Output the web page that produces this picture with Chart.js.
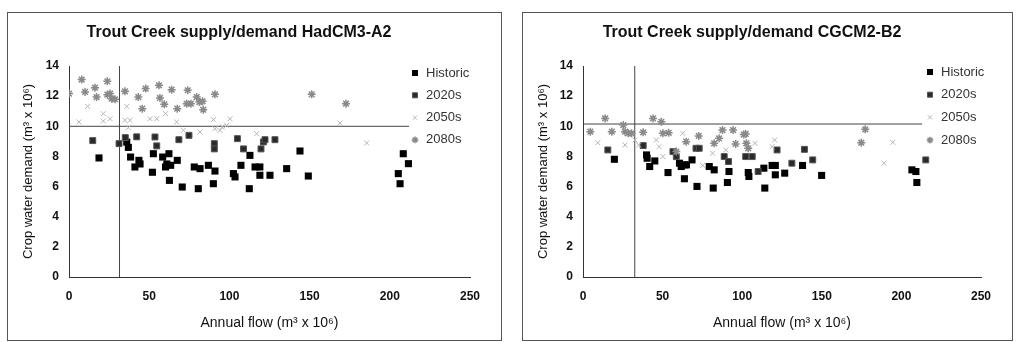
<!DOCTYPE html>
<html>
<head>
<meta charset="utf-8">
<script src="https://cdn.jsdelivr.net/npm/chart.js@4/dist/chart.umd.min.js"></script>
<style>
  html, body { margin: 0; padding: 0; background: #fff; }
  body { width: 1019px; height: 342px; position: relative; overflow: hidden; }
  .box { position: absolute; top: 12px; height: 327px; border: 1px solid #555; background: #fff; }
  #boxA { left: 7px; width: 493px; }
  #boxB { left: 522px; width: 489px; }
  canvas { display: block; }
</style>
</head>
<body>
<div class="box" id="boxA"><canvas id="hadcm3"></canvas></div>
<div class="box" id="boxB"><canvas id="cgcm2"></canvas></div>
<script>
// HadCM3-A2 scenario: annual flow (m3 x 10^6) vs crop water demand (m3 x 10^6)
const hadHistoric = [
  [18.7, 7.9], [36, 8.95], [37, 8.6], [38.4, 7.96], [41.1, 7.3], [43.6, 7.74], [44.3, 7.5],
  [52, 6.95], [52.6, 8.18], [58.4, 7.96], [60.2, 7.3], [61, 7.5], [62.3, 8.18], [62.6, 6.41],
  [63.4, 7.41], [67.5, 7.74], [70.6, 5.97], [78.1, 7.3], [80.6, 5.86], [81.7, 7.19], [86.9, 7.41],
  [90, 6.19], [91, 7.03], [102.5, 6.86], [103.5, 6.64], [107.2, 7.41], [112.4, 5.86], [112.8, 8.07],
  [116, 7.3], [119, 7.3], [119, 6.75], [125.3, 6.75], [135.7, 7.19], [144, 8.36], [149.2, 6.7],
  [205.3, 6.86], [206.4, 6.19], [208.4, 8.18], [211.6, 7.52]
];
const had2020s = [
  [14.8, 9.05], [31.2, 8.85], [35.1, 9.25], [42.2, 9.3], [53.6, 9.29], [54.7, 8.7], [68.5, 9.11],
  [74.8, 9.4], [90.6, 8.85], [90.6, 8.5], [105, 9.18], [108.8, 8.5], [119.7, 8.5], [121.2, 8.96],
  [122.2, 9.11], [128.4, 9.11]
];
const had2050s = [
  [6.2, 10.29], [11.6, 11.32], [21.4, 10.84], [21.4, 10.35], [25.6, 10.5], [36, 11.32], [34.9, 10.4],
  [38, 10.4], [37, 9.91], [50.5, 10.5], [54.7, 10.5], [60.2, 10.84], [67.1, 10.29], [71.3, 9.73],
  [81.7, 9.62], [90, 10.44], [91, 9.84], [94.1, 9.73], [95.5, 9.95], [98.3, 10.06], [100.4, 10.5],
  [117, 9.51], [169, 10.22], [185.6, 8.89]
];
const had2080s = [
  [0, 12.17], [7.9, 13.1], [10, 12.28], [16.2, 12.56], [17.2, 11.94], [23.9, 12.98], [23.9, 12.1],
  [25.6, 12.17], [26.6, 11.83], [28.7, 11.79], [34.9, 12.32], [43.2, 11.94], [45.7, 11.17],
  [47.8, 12.5], [56.1, 12.72], [56.7, 11.88], [59.4, 11.46], [64, 12.43], [67.5, 11.17], [74, 12.39],
  [73.4, 11.5], [76, 11.5], [79.6, 11.94], [81.3, 11.61], [83.3, 11.66], [83.7, 11.1], [91, 12.12],
  [151.3, 12.12], [172.7, 11.5]
];
const hadSupplyLimit = [[0, 10], [212, 10]];
const hadFlowLimit = [[31.5, 0], [31.5, 14]];

// CGCM2-B2 scenario
const cgcHistoric = [
  [19.7, 7.81], [39.9, 8.1], [40.3, 7.88], [41.9, 7.33], [45.1, 7.7], [53.4, 6.93], [60.6, 7.55],
  [61.7, 7.33], [63.7, 7.44], [63.7, 6.52], [65, 7.44], [68.5, 7.77], [71.6, 6.01], [79.3, 7.33],
  [81.8, 5.9], [82.4, 7.11], [90.7, 6.27], [91.7, 7.0], [103.8, 6.93], [104.2, 6.67], [113.6, 7.22],
  [114.2, 5.9], [118.8, 7.4], [120.8, 7.4], [120.8, 6.78], [126.7, 6.89], [137.9, 7.4], [149.9, 6.74],
  [206.6, 7.11], [209.1, 7.0], [209.7, 6.27]
];
const cgc2020s = [
  [15.6, 8.43], [37.8, 8.72], [56.5, 8.32], [58.6, 7.99], [71, 8.54], [73, 8.54], [88.7, 7.99],
  [91.4, 7.66], [102.2, 7.99], [106.3, 7.99], [110, 7.0], [121.9, 8.43], [131.2, 7.55],
  [139.1, 8.47], [144.3, 7.77], [215.3, 7.77]
];
const cgc2050s = [
  [9.3, 8.91], [26.4, 8.76], [32.6, 9.09], [35, 8.76], [46.1, 9.09], [47.8, 8.65], [50.2, 7.99],
  [62.7, 9.53], [75.2, 7.4], [81.4, 8.21], [89.7, 8.43], [108, 8.87], [118.8, 8.65], [120.4, 9.09],
  [189, 7.55], [194.6, 8.94]
];
const cgc2080s = [
  [4.6, 9.64], [13.9, 10.52], [18.1, 9.64], [25.3, 10.08], [26.4, 9.64], [28.4, 9.53], [30.5, 9.53],
  [37.8, 9.6], [44, 10.52], [49.2, 10.3], [50.2, 9.53], [53.8, 9.57], [58.6, 8.32], [64.8, 8.98],
  [72.7, 9.36], [82.4, 8.87], [85.5, 9.2], [87.6, 9.75], [94.3, 9.75], [95.9, 8.83], [101, 9.45],
  [102.2, 9.49], [102.6, 8.87], [103.8, 8.54], [174.8, 8.91], [177.3, 9.8]
];
const cgcSupplyLimit = [[0, 10.15], [213, 10.15]];
const cgcFlowLimit = [[32.5, 0], [32.5, 14]];

const seriesNames = ['Historic', '2020s', '2050s', '2080s'];
const yTicks = [0, 2, 4, 6, 8, 10, 12, 14];
const xTicks = [0, 50, 100, 150, 200, 250];

const FONT = "'Liberation Sans', Arial, sans-serif";
const toXY = (arr) => arr.map(([x, y]) => ({ x, y }));

const markerStyles = [
  { pointStyle: 'rect', radius: 5, backgroundColor: '#000', borderColor: '#000', borderWidth: 0 },
  { pointStyle: 'rect', radius: 4.2, backgroundColor: '#2a2a2a', borderColor: '#555', borderWidth: 1 },
  { pointStyle: 'crossRot', radius: 3.5, backgroundColor: '#bbb', borderColor: '#b5b5b5', borderWidth: 1 },
  { pointStyle: 'star', radius: 4, backgroundColor: '#888', borderColor: '#8a8a8a', borderWidth: 1.5 }
];

// legend drawn inside the plot, top-right, one row per series
const seriesKey = {
  id: 'seriesKey',
  afterDatasetsDraw(chart, args, opts) {
    const { ctx, chartArea } = chart;
    const x0 = chartArea.right - opts.fromRight;
    let y = chartArea.top + opts.fromTop;
    ctx.save();
    ctx.font = '13px ' + FONT;
    ctx.textBaseline = 'middle';
    chart.data.datasets.forEach((ds) => {
      if (ds.isLimit) return;
      ctx.fillStyle = ds.backgroundColor;
      ctx.strokeStyle = ds.borderColor;
      ctx.lineWidth = ds.borderWidth || 1;
      Chart.helpers.drawPoint(ctx, {
        pointStyle: ds.pointStyle, radius: ds.pointRadius * 0.85, rotation: 0,
        borderWidth: ds.borderWidth
      }, x0, y);
      ctx.fillStyle = '#333';
      ctx.fillText(ds.label, x0 + 11, y);
      y += opts.rowGap;
    });
    ctx.restore();
  }
};

function makeChart(id, width, title, series, supply, flow, key) {
  const canvas = document.getElementById(id);
  canvas.width = width;
  canvas.height = 327;
  canvas.style.width = width + 'px';
  canvas.style.height = '327px';

  const datasets = series.map((pts, i) => {
    const m = markerStyles[i];
    return {
      label: seriesNames[i],
      data: toXY(pts),
      pointStyle: m.pointStyle,
      pointRadius: m.radius,
      pointHoverRadius: m.radius,
      backgroundColor: m.backgroundColor,
      borderColor: m.borderColor,
      borderWidth: m.borderWidth,
      order: 4 - i
    };
  });
  [supply, flow].forEach((line) => {
    datasets.push({
      type: 'line', isLimit: true, label: '', data: toXY(line),
      borderColor: '#444', borderWidth: 1, pointRadius: 0, fill: false, order: 10
    });
  });

  return new Chart(canvas, {
    type: 'scatter',
    data: { datasets },
    options: {
      responsive: false,
      animation: false,
      events: [],
      layout: { padding: { top: 0, left: 0, right: 31, bottom: 0 } },
      plugins: {
        legend: { display: false },
        tooltip: { enabled: false },
        title: {
          display: true, text: title, color: '#111',
          font: { family: FONT, size: 16, weight: 'bold' },
          padding: { top: 10, bottom: 23.8 }
        },
        seriesKey: key
      },
      scales: {
        x: {
          type: 'linear', min: 0, max: 250,
          afterBuildTicks: (s) => { s.ticks = xTicks.map((v) => ({ value: v })); },
          afterFit: (s) => { s.height = 63; },
          grid: { display: false, drawTicks: true, tickLength: 4, tickColor: '#333' },
          border: { display: true, color: '#333', width: 1 },
          ticks: { color: '#111', padding: 8, maxRotation: 0, font: { family: FONT, size: 12, weight: 'bold' } },
          title: {
            display: true, text: 'Annual flow (m³ x 10⁶)', color: '#111',
            font: { family: FONT, size: 14 }, padding: { top: 0, bottom: 8.6 }
          }
        },
        y: {
          type: 'linear', min: 0, max: 14,
          afterBuildTicks: (s) => { s.ticks = yTicks.map((v) => ({ value: v })); },
          afterFit: (s) => { s.width = key.axisWidth; },
          grid: { display: false, drawTicks: true, tickLength: 4, tickColor: '#333' },
          border: { display: true, color: '#333', width: 1 },
          ticks: { color: '#111', padding: 6, font: { family: FONT, size: 12, weight: 'bold' } },
          title: {
            display: true, text: 'Crop water demand (m³ x 10⁶)', color: '#111',
            font: { family: FONT, size: 13 }, padding: { top: 12.2, bottom: 0 }
          }
        }
      }
    },
    plugins: [seriesKey]
  });
}

makeChart('hadcm3', 493, 'Trout Creek supply/demand HadCM3-A2',
  [hadHistoric, had2020s, had2050s, had2080s], hadSupplyLimit, hadFlowLimit,
  { fromRight: 55, fromTop: 7, rowGap: 22.3, axisWidth: 61 });

makeChart('cgcm2', 489, 'Trout Creek supply/demand CGCM2-B2',
  [cgcHistoric, cgc2020s, cgc2050s, cgc2080s], cgcSupplyLimit, cgcFlowLimit,
  { fromRight: 51, fromTop: 6, rowGap: 22.7, axisWidth: 60 });
</script>
</body>
</html>
